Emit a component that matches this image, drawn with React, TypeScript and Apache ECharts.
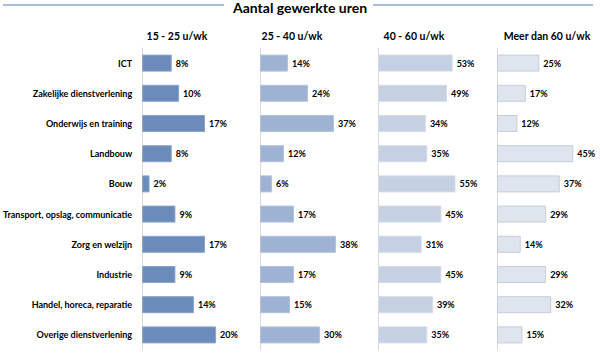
import React, { useEffect, useRef } from "react";
import * as echarts from "echarts";

const categories = [
  "ICT",
  "Zakelijke dienstverlening",
  "Onderwijs en training",
  "Landbouw",
  "Bouw",
  "Transport, opslag, communicatie",
  "Zorg en welzijn",
  "Industrie",
  "Handel, horeca, reparatie",
  "Overige dienstverlening",
];

const panelTitles = ["15 - 25 u/wk", "25 - 40 u/wk", "40 - 60 u/wk", "Meer dan 60 u/wk"];

const s15_25 = [8, 10, 17, 8, 2, 9, 17, 9, 14, 20];
const s25_40 = [14, 24, 37, 12, 6, 17, 38, 17, 15, 30];
const s40_60 = [53, 49, 34, 35, 55, 45, 31, 45, 39, 35];
const s60plus = [25, 17, 12, 45, 37, 29, 14, 29, 32, 15];

const seriesData = [s15_25, s25_40, s40_60, s60plus];
const mainTitle = "Aantal gewerkte uren";

const FONT = "Lato, 'Open Sans', sans-serif";

export default function App() {
  const ref = useRef<HTMLDivElement>(null);
  useEffect(() => {
    document.body.style.margin = "0";
    if (!ref.current) return;
    const chart = echarts.init(ref.current, undefined, { renderer: "svg" });
    const lefts = [142, 260, 378, 497];
    const width = 100;
    const maxes = [27, 50, 71, 59];
    const colors = ["#6b8cbb", "#9eb3d3", "#c5d0e2", "#dfe5ef"];
    const borders = ["#8aa3c8", "#b3c3dc", "#d3dbe8", "#c6cdd8"];
    const titleCenters = [177, 292, 414, 547];

    const grids = lefts.map((l) => ({ left: l, width, top: 48, bottom: 4, containLabel: false }));
    const xAxes = lefts.map((_, i) => ({
      type: "value",
      gridIndex: i,
      min: 0,
      max: maxes[i],
      show: false,
    }));
    const yAxes = lefts.map((_, i) => ({
      type: "category",
      gridIndex: i,
      data: categories,
      inverse: true,
      axisLine: { show: true, lineStyle: { color: "#d9d9d9", width: 1 } },
      axisTick: { show: false },
      axisLabel: {
        show: i === 0,
        margin: 10,
        fontSize: 9,
        fontWeight: "bold",
        color: "#000",
        fontFamily: FONT,
      },
    }));
    const series = seriesData.map((d, i) => ({
      type: "bar",
      xAxisIndex: i,
      yAxisIndex: i,
      data: d,
      barWidth: 17,
      itemStyle: { color: colors[i], borderColor: borders[i], borderWidth: 1 },
      label: {
        show: true,
        position: "right",
        distance: 4,
        formatter: "{c}%",
        fontSize: 9,
        fontWeight: "bold",
        color: "#000",
        fontFamily: FONT,
      },
    }));

    chart.setOption({
      animation: false,
      backgroundColor: "#fff",
      title: [
        {
          text: mainTitle,
          left: 300,
          top: 0,
          padding: 0,
          textAlign: "center",
          textStyle: { fontSize: 14, fontWeight: "bold", color: "#000", fontFamily: FONT },
        },
        ...panelTitles.map((t, i) => ({
          text: t,
          left: titleCenters[i],
          top: 30,
          padding: 0,
          textAlign: "center",
          textStyle: { fontSize: 10.5, fontWeight: "bold", color: "#000", fontFamily: FONT },
        })),
      ],
      graphic: [
        { type: "line", shape: { x1: 3, y1: 5, x2: 224, y2: 5 }, style: { stroke: "#8fa9cc", lineWidth: 1.5 } },
        { type: "line", shape: { x1: 373, y1: 5, x2: 593, y2: 5 }, style: { stroke: "#8fa9cc", lineWidth: 1.5 } },
      ],
      grid: grids,
      xAxis: xAxes,
      yAxis: yAxes,
      series,
    });
    return () => chart.dispose();
  }, []);
  return <div ref={ref} style={{ width: 600, height: 354 }} />;
}
